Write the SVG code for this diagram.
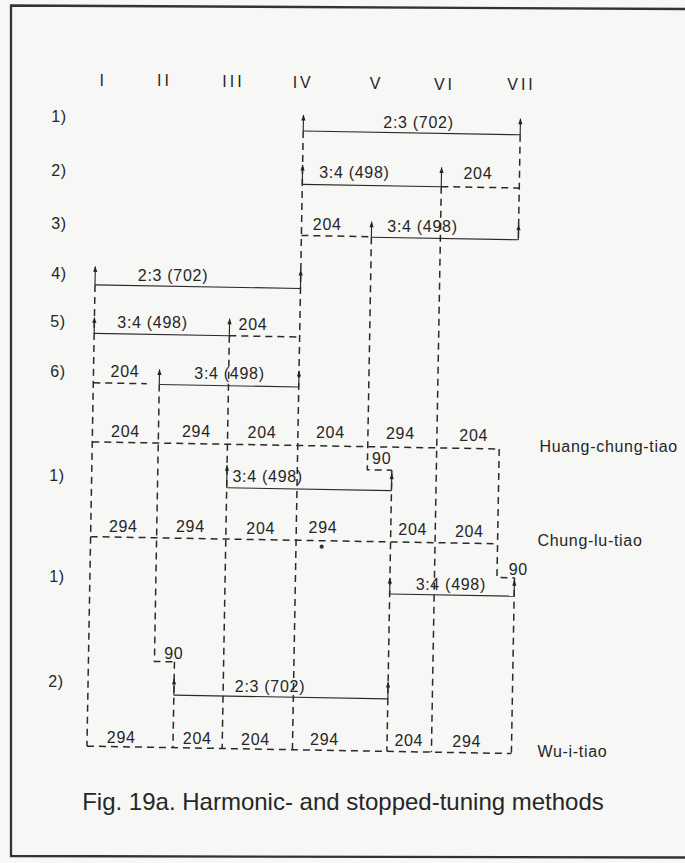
<svg xmlns="http://www.w3.org/2000/svg" width="685" height="863" viewBox="0 0 685 863">
<defs>
<marker id="ah" markerUnits="userSpaceOnUse" markerWidth="10" markerHeight="10" viewBox="-8 -5 10 10" refX="0" refY="0" orient="auto">
<path d="M0.5,0 L-5.5,-2.1 L-5.5,2.1 Z" fill="#262626"/>
</marker>
<style>
.d{fill:none;stroke:#2a2a2a;stroke-width:1.5;stroke-dasharray:7 5}
.s{fill:none;stroke:#2a2a2a;stroke-width:1.15}
.a{fill:none;stroke:#2a2a2a;stroke-width:1.15;marker-end:url(#ah)}
text{font-family:"Liberation Sans",Arial,sans-serif;font-size:16px;fill:#262626;letter-spacing:0.7px;text-anchor:middle}
.h{letter-spacing:3px}
.r{text-anchor:start}
.cap{font-size:24px;letter-spacing:0}
</style>
</defs>
<rect width="685" height="863" fill="#f7f7f5"/>
<path id="frame" d="M685,9 L11,5.5 L11,856 L685,857.5" fill="none" stroke="#333" stroke-width="2.3"/>
<g id="connectors" transform="rotate(1 300 430)">
<!-- dashed columns -->
<path class="d" d="M92.5,288.5 V749.8"/>
<path class="d" d="M158.5,387 V664 H178.5"/>
<path class="d" d="M178.5,664 V749.8"/>
<path class="d" d="M227.7,337 V749.8"/>
<path class="d" d="M298,131 V749.8"/>
<path class="d" d="M368,236 V468.6 H392.5"/>
<path class="d" d="M392.5,468.6 V749.8"/>
<path class="d" d="M437,184.3 V749.8"/>
<path class="d" d="M515,131 V236"/>
<path class="d" d="M499.5,445.5 V574 H517"/>
<path class="d" d="M517,574 V749.8"/>
<!-- dashed rows -->
<path class="d" d="M437,184.2 H515"/>
<path class="d" d="M298,235.5 H368"/>
<path class="d" d="M227.7,337 H298"/>
<path class="d" d="M92.5,386.4 H146"/>
<path class="d" d="M92.5,445.5 H499.5"/>
<path class="d" d="M92.5,540.3 H499.5"/>
<path class="d" d="M92.5,749.8 H517"/>
<!-- solid rows -->
<path class="s" d="M298,131 H515"/>
<path class="s" d="M298,184.3 H437"/>
<path class="s" d="M368,236 H515"/>
<path class="s" d="M92.5,288.5 H298"/>
<path class="s" d="M92.5,337 H227.7"/>
<path class="s" d="M158.5,387 H298"/>
<path class="s" d="M227.7,489 H392.5"/>
<path class="s" d="M392.5,592.4 H517"/>
<path class="s" d="M178.5,697.3 H392.5"/>
<!-- arrow ticks -->
<path class="a" d="M298,131 V115"/>
<path class="a" d="M515,131 V115"/>
<path class="a" d="M298,184.3 V165"/>
<path class="a" d="M437,184.3 V165"/>
<path class="a" d="M368,236 V220.5"/>
<path class="a" d="M515,236 V221"/>
<path class="a" d="M92.5,288.5 V270"/>
<path class="a" d="M298,288.5 V270"/>
<path class="a" d="M92.5,337 V321"/>
<path class="a" d="M227.7,337 V320"/>
<path class="a" d="M158.5,387 V372"/>
<path class="a" d="M298,387 V371"/>
<path class="a" d="M227.7,489 V466.5"/>
<path class="a" d="M392.5,489 V472"/>
<path class="a" d="M392.5,592.4 V576.5"/>
<path class="a" d="M517,592.4 V576.5"/>
<path class="a" d="M178.5,697.3 V681"/>
<path class="a" d="M392.5,697.3 V680.5"/>
</g>
<g id="headers">
<text class="h" x="103.2" y="85.5">I</text>
<text class="h" x="164.5" y="86">II</text>
<text class="h" x="233.5" y="86.5">III</text>
<text class="h" x="303.2" y="88">IV</text>
<text class="h" x="376.5" y="89">V</text>
<text class="h" x="444.5" y="89.5">VI</text>
<text class="h" x="521.5" y="90">VII</text>
</g>
<g id="row-labels">
<text x="59" y="121.7">1)</text>
<text x="59" y="175.5">2)</text>
<text x="59" y="228.5">3)</text>
<text x="59" y="278.5">4)</text>
<text x="58" y="327">5)</text>
<text x="58" y="377">6)</text>
<text x="57" y="480.5">1)</text>
<text x="57" y="582">1)</text>
<text x="56" y="687">2)</text>
</g>
<g id="step-labels">
<text x="418.5" y="128.3">2:3 (702)</text>
<text x="354.4" y="178.3">3:4 (498)</text>
<text x="477.9" y="179.3">204</text>
<text x="327.2" y="230">204</text>
<text x="422.5" y="231.7">3:4 (498)</text>
<text x="173" y="280.7">2:3 (702)</text>
<text x="152.5" y="327.7">3:4 (498)</text>
<text x="253" y="330">204</text>
<text x="125" y="376.7">204</text>
<text x="229.5" y="379">3:4 (498)</text>
<text x="381.7" y="464.3">90</text>
<text x="267.7" y="481.7">3:4 (498)</text>
<text x="518.3" y="575">90</text>
<text x="450.8" y="590">3:4 (498)</text>
<text x="173.8" y="659.3">90</text>
<text x="270" y="691.7">2:3 (702)</text>
</g>
<g id="huang-chung-tiao">
<text x="125.5" y="436.7">204</text>
<text x="196.4" y="437.3">294</text>
<text x="262" y="437.7">204</text>
<text x="330.4" y="438.3">204</text>
<text x="400.4" y="439">294</text>
<text x="473.7" y="440.7">204</text>
<text class="r" x="539.5" y="451.7">Huang-chung-tiao</text>
</g>
<g id="chung-lu-tiao">
<text x="123.3" y="531.7">294</text>
<text x="190.4" y="532">294</text>
<text x="260.7" y="533.5">204</text>
<text x="323" y="533.3">294</text>
<text x="412.7" y="535">204</text>
<text x="469.3" y="536.7">204</text>
<text class="r" x="537.4" y="545.5">Chung-lu-tiao</text>
<circle cx="321.7" cy="546.7" r="2.1" fill="#333"/>
</g>
<g id="wu-i-tiao">
<text x="121.2" y="743.3">294</text>
<text x="197.2" y="743.7">204</text>
<text x="255.5" y="745">204</text>
<text x="324.5" y="745">294</text>
<text x="408.8" y="746">204</text>
<text x="466.7" y="746.7">294</text>
<text class="r" x="537.4" y="756.5">Wu-i-tiao</text>
</g>
<g id="caption">
<text class="cap" x="343" y="810">Fig. 19a. Harmonic- and stopped-tuning methods</text>
</g>
</svg>
